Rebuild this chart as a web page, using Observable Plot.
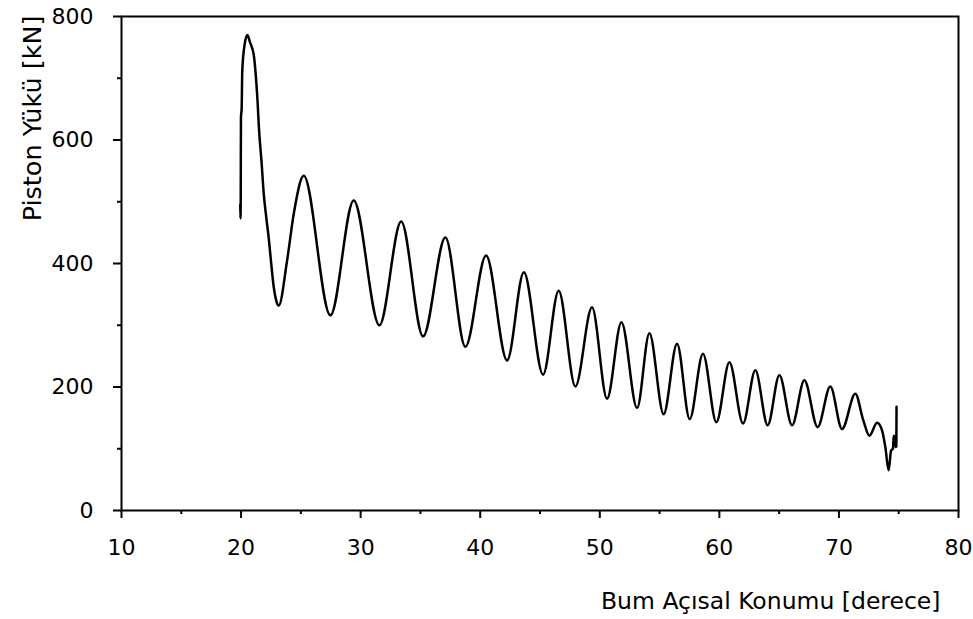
<!DOCTYPE html>
<html>
<head>
<meta charset="utf-8">
<script src="https://cdn.jsdelivr.net/npm/d3@7"></script>
<script src="https://cdn.jsdelivr.net/npm/@observablehq/plot@0.6"></script>
<style>
  html, body { margin: 0; padding: 0; background: #fff; }
  #chart { width: 973px; height: 619px; }
</style>
</head>
<body>
<div id="chart"></div>
<script>
// Boom angular position [degrees]
const angles = [
  19.93, 19.95, 19.97, 19.99, 20.05, 20.10, 20.30, 20.53, 20.75, 21.06, 21.20, 21.40, 21.48, 21.71, 21.90,
  22.10, 22.32, 22.54, 22.73, 22.94, 23.15, 23.85, 24.41, 25.24, 27.47, 29.42, 31.57, 33.39, 35.22,
  37.09, 38.76, 40.49, 42.25, 43.65, 45.26, 46.56, 47.96, 49.35, 50.61, 51.81, 53.12, 54.15, 55.34,
  56.46, 57.52, 58.63, 59.75, 60.84, 61.98, 63.01, 64.04, 65.02, 66.08, 67.11, 68.22, 69.28, 70.26,
  71.37, 72.04, 72.55, 73.19, 73.60, 73.88, 74.16, 74.36, 74.52, 74.58, 74.66, 74.74, 74.80, 74.82
];
// Piston load [kN]
const loads = [
  495, 473, 500, 636, 652, 712, 755, 770, 758, 738, 712, 655, 624, 565, 512,
  476, 440, 396, 362, 340, 332, 405, 481, 542, 316, 502, 300, 468, 282,
  442, 265, 413, 243, 386, 220, 356, 201, 329, 181, 305, 166, 287, 156,
  270, 148, 254, 143, 240, 141, 227, 138, 219, 138, 211, 135, 201, 132,
  189, 146, 121, 142, 130, 103, 65, 97, 100, 121, 118, 103, 104, 168
];
const xMajor = [10, 20, 30, 40, 50, 60, 70, 80];
const xMinor = [15, 25, 35, 45, 55, 65, 75];
const yMajor = [0, 200, 400, 600, 800];
const yMinor = [100, 300, 500, 700];
const xTitle = "Bum Açısal Konumu [derece]";
const yTitle = "Piston Yükü [kN]";

const data = angles.map((a, i) => ({angle: a, load: loads[i]}));

const chart = Plot.plot({
  width: 973,
  height: 619,
  marginLeft: 121,
  marginRight: 15,
  marginTop: 16,
  marginBottom: 109,
  style: {fontFamily: "DejaVu Sans", fontSize: "22px", color: "black", background: "white"},
  x: {domain: [10, 80]},
  y: {domain: [0, 800]},
  marks: [
    Plot.line(data, {x: "angle", y: "load", curve: "monotone-x", stroke: "black", strokeWidth: 2.5}),
    Plot.frame({stroke: "black", strokeWidth: 2}),
    Plot.axisX(xMajor, {tickSize: 8, tickPadding: 21, strokeWidth: 2, label: null}),
    Plot.axisX(xMinor, {tickSize: 4, strokeWidth: 2, tickFormat: () => "", label: null}),
    Plot.axisY(yMajor, {tickSize: 8, tickPadding: 20, strokeWidth: 2, label: null}),
    Plot.axisY(yMinor, {tickSize: 4, strokeWidth: 2, tickFormat: () => "", label: null}),
    Plot.text([xTitle], {text: d => d, frameAnchor: "bottom-right", dx: -18, dy: 98, textAnchor: "end", fontSize: 23.5, fill: "black"}),
    Plot.text([yTitle], {text: d => d, frameAnchor: "top-left", dx: -99, dy: -1, rotate: -90, textAnchor: "end", fontSize: 25.5, fill: "black"})
  ]
});
document.getElementById("chart").appendChild(chart);
</script>
</body>
</html>
